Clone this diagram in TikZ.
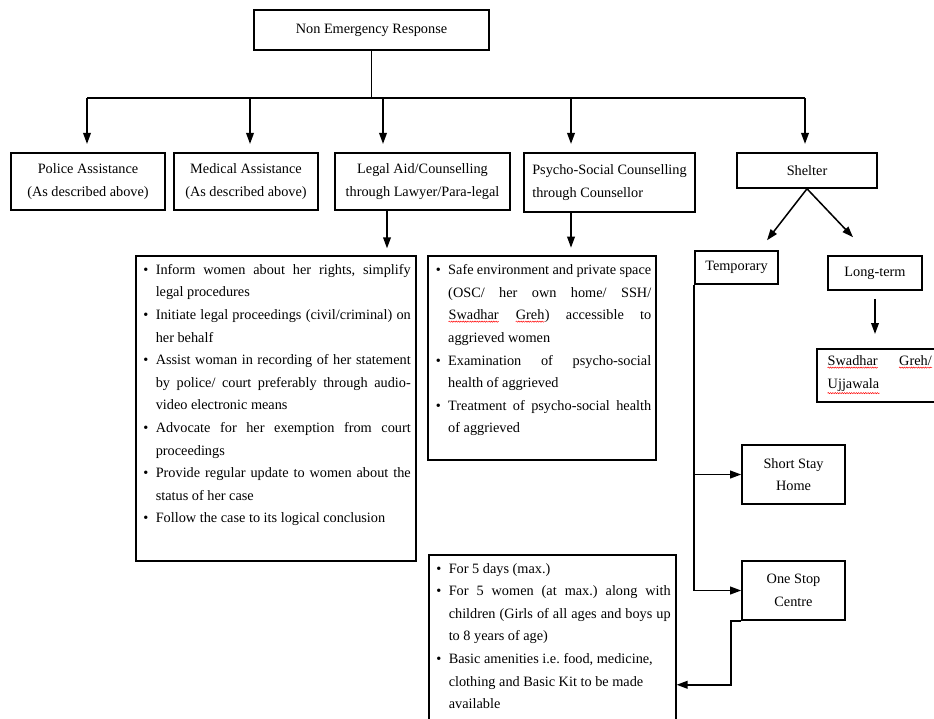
\documentclass[tikz,border=0pt]{standalone}
\usepackage{fontspec}
\setmainfont{Liberation Serif}
\usepackage{enumitem}
\usetikzlibrary{arrows.meta, decorations.pathmorphing}
\frenchspacing
\newcommand{\spell}[1]{\tikz[baseline=(w.base)]{\node[inner sep=0pt] (w) {#1};
    \draw[red, line width=0.4pt, decorate, decoration={snake, amplitude=0.5pt, segment length=2pt}]
        ([yshift=-1.2pt]w.south west) -- ([yshift=-1.2pt]w.south east);}}
\newcommand{\boxlist}[3]{\begin{minipage}[t][#1][t]{#2}\sloppy\hyphenpenalty=10000\relax
    \begin{itemize}[label=\textbullet, leftmargin=0.45cm, labelsep=0.22cm, nosep]#3\end{itemize}\end{minipage}}

\begin{document}
\begin{tikzpicture}[x=0.03cm, y=-0.03cm, line width=1.3pt,
    font=\fontsize{12.2}{19.3}\selectfont,
    box/.style={draw, rectangle, align=center, inner sep=1pt},
    listbox/.style={draw, rectangle, anchor=north west, inner xsep=0.15cm, inner ysep=0.25cm},
    arr/.style={-{Triangle[length=3.3mm, width=2.3mm]}}]
    \useasboundingbox (0,0) rectangle (934,718);

    % Top of the tree
    \node[box, minimum width=7.05cm, minimum height=1.2cm] (ner) at (371.5,30) {Non Emergency Response};

    % Kinds of help
    \node[box, minimum width=4.62cm, minimum height=1.71cm] (police) at (88,181.5) {Police Assistance\\(As described above)};
    \node[box, minimum width=4.32cm, minimum height=1.71cm] (medical) at (246,181.5) {Medical Assistance\\(As described above)};
    \node[box, minimum width=5.25cm, minimum height=1.71cm] (legal) at (422.5,181.5) {Legal Aid/Counselling\\through Lawyer/Para-legal};
    \node[box, align=left, minimum width=5.13cm, minimum height=1.77cm] (psycho) at (609.5,182.5) {Psycho-Social Counselling\\through Counsellor};
    \node[box, minimum width=4.2cm, minimum height=1.05cm] (shelter) at (807,170.5) {Shelter};

    \foreach \x/\n in {87/police, 250/medical, 383/legal, 571/psycho, 805/shelter}{
        \coordinate (drop\n) at (\x,98);
        \draw[arr, shorten >=0.25cm] (drop\n) -- (drop\n |- \n.north);
    }
    \draw (droppolice) -- (dropshelter);
    \draw (ner.south) -- (ner.south |- dropshelter);

    % Legal aid details
    \node[listbox] (legallist) at (135,255) {\boxlist{8.65cm}{8.1cm}{
        \item Inform women about her rights, simplify\linebreak legal procedures
        \item Initiate legal proceedings (civil/criminal) on\linebreak her behalf
        \item Assist woman in recording of her statement\linebreak by police/ court preferably through audio-\linebreak video electronic means
        \item Advocate for her exemption from court\linebreak proceedings
        \item Provide regular update to women about the\linebreak status of her case
        \item Follow the case to its logical conclusion}};
    \coordinate (legalout) at ([xshift=-1.065cm]legal.south);
    \draw[arr, shorten >=0.2cm] (legalout) -- (legalout |- legallist.north);

    % Counselling details
    \node[listbox] (psycholist) at (428,256) {\boxlist{5.62cm}{6.54cm}{
        \item Safe environment and private space\linebreak (OSC/ her own home/ SSH/\linebreak \spell{Swadhar} \spell{Greh}) accessible to\linebreak aggrieved women
        \item Examination of psycho-social\linebreak health of aggrieved
        \item Treatment of psycho-social health\linebreak of aggrieved}};
    \draw[arr, shorten >=0.25cm] (psycho.south -| droppsycho) -- (droppsycho |- psycholist.north);

    % Shelter branches
    \node[box, minimum width=2.49cm, minimum height=0.99cm] (temporary) at (736.5,267.5) {Temporary};
    \node[box, minimum width=2.82cm, minimum height=1.02cm] (longterm) at (875,273) {Long-term};
    \draw[arr] (shelter.south) -- ([xshift=0.915cm, yshift=0.3cm]temporary.north);
    \draw[arr] (shelter.south) -- ([xshift=-0.66cm, yshift=0.54cm]longterm.north);

    \node[listbox, inner xsep=0.3cm, inner ysep=0.2cm] (swadhar) at (817,349)
        {\begin{minipage}[t][1.19cm][t]{3.15cm}\spell{Swadhar}\hfill\spell{Greh/}\\\spell{Ujjawala}\end{minipage}};
    \draw[arr, shorten <=0.24cm, shorten >=0.45cm] (longterm.south) -- (longterm.south |- swadhar.north);

    \node[box, minimum width=3.09cm, minimum height=1.77cm] (shortstay) at (793.5,474.5) {Short Stay\\Home};
    \node[box, minimum width=3.09cm, minimum height=1.77cm] (osc) at (793.5,590.5) {One Stop\\Centre};
    \draw[arr] (temporary.south west) |- (osc.west);
    \draw[arr] (temporary.south west |- shortstay.west) -- (shortstay.west);

    % One Stop Centre details
    \node[listbox] (osclist) at (428,554) {\boxlist{7.3cm}{7.11cm}{
        \item For 5 days (max.)
        \item For 5 women (at max.) along with\linebreak children (Girls of all ages and boys up\linebreak to 8 years of age)
        \item Basic amenities i.e. food, medicine,\newline clothing and Basic Kit to be made\newline available}};
    \draw[arr] (osc.south west) -- ++(-10,0) |- (osclist.east);
\end{tikzpicture}
\end{document}
